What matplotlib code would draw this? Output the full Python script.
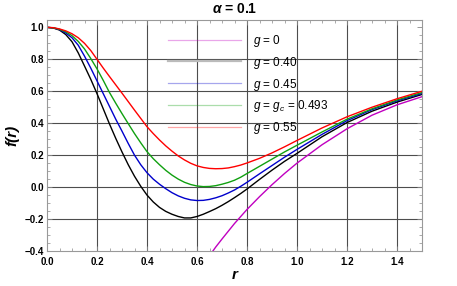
import numpy as np
import matplotlib.pyplot as plt
from matplotlib.lines import Line2D
from matplotlib.ticker import MultipleLocator

plt.rcParams['font.family'] = ['Liberation Sans', 'DejaVu Sans']
plt.rcParams['mathtext.fontset'] = 'custom'
plt.rcParams['mathtext.rm'] = 'Liberation Sans'
plt.rcParams['mathtext.it'] = 'Liberation Sans:italic'
plt.rcParams['mathtext.bf'] = 'Liberation Sans:bold'
plt.rcParams['mathtext.bfit'] = 'Liberation Sans:italic:bold'

# values
r = [0.0, 0.025, 0.05, 0.075, 0.1, 0.125, 0.15, 0.175, 0.2, 0.225, 0.25,
     0.275, 0.3, 0.325, 0.35, 0.375, 0.4, 0.425, 0.45, 0.475, 0.5, 0.525,
     0.55, 0.575, 0.6, 0.625, 0.65, 0.675, 0.7, 0.725, 0.75, 0.775, 0.8,
     0.85, 0.9, 0.95, 1.0, 1.1, 1.2, 1.3, 1.4, 1.5]

f_g040 = [1.0, 0.996, 0.983, 0.955, 0.91, 0.84, 0.758, 0.675, 0.585, 0.49,
          0.395, 0.305, 0.22, 0.14, 0.068, 0.005, -0.05, -0.093, -0.127,
          -0.152, -0.17, -0.184, -0.193, -0.193, -0.184, -0.17, -0.153,
          -0.135, -0.114, -0.091, -0.066, -0.04, -0.012, 0.048, 0.106, 0.161,
          0.211, 0.315, 0.404, 0.475, 0.532, 0.58]
f_g045 = [1.0, 0.997, 0.986, 0.965, 0.935, 0.888, 0.82, 0.745, 0.665, 0.585,
          0.505, 0.425, 0.35, 0.273, 0.2, 0.14, 0.09, 0.05, 0.018, -0.01,
          -0.035, -0.055, -0.07, -0.08, -0.084, -0.083, -0.077, -0.067,
          -0.054, -0.037, -0.018, 0.005, 0.03, 0.083, 0.135, 0.187, 0.236,
          0.33, 0.416, 0.485, 0.54, 0.586]
f_gc = [1.0, 0.997, 0.988, 0.972, 0.948, 0.912, 0.865, 0.805, 0.74, 0.668,
        0.592, 0.525, 0.46, 0.397, 0.335, 0.277, 0.222, 0.178, 0.14, 0.105,
        0.075, 0.05, 0.03, 0.016, 0.007, 0.003, 0.004, 0.009, 0.018, 0.029,
        0.043, 0.062, 0.085, 0.13, 0.175, 0.22, 0.262, 0.345, 0.425, 0.49,
        0.545, 0.592]
f_g055 = [1.0, 0.998, 0.99, 0.978, 0.96, 0.935, 0.9, 0.855, 0.80, 0.745,
          0.692, 0.64, 0.588, 0.535, 0.482, 0.43, 0.378, 0.335, 0.295, 0.258,
          0.225, 0.195, 0.17, 0.149, 0.133, 0.123, 0.117, 0.115, 0.116, 0.12,
          0.128, 0.138, 0.151, 0.18, 0.214, 0.252, 0.292, 0.37, 0.44, 0.50,
          0.553, 0.60]

r_g0 = [0.6, 0.625, 0.65, 0.675, 0.7, 0.75, 0.8, 0.85, 0.9, 0.95, 1.0, 1.1,
        1.2, 1.3, 1.4, 1.5]
f_g0 = [-0.56, -0.49, -0.43, -0.375, -0.325, -0.228, -0.14, -0.06, 0.015,
        0.085, 0.15, 0.265, 0.365, 0.45, 0.515, 0.566]

labels = [r'$g$ = 0', r'$g$ = 0.40', r'$g$ = 0.45',
          r'$g$ = $g_c$ = $\mathit{0.493}$', r'$g$ = 0.55']
colors = ['#c000c0', 'black', '#0000cc', '#10a010', '#ff0000']

fig = plt.figure(figsize=(4.57, 2.86), dpi=100)
ax = fig.add_axes([47 / 457, 1 - 251 / 286, 375 / 457, 231 / 286])

lw = 1.0
ax.plot(r_g0, f_g0, color=colors[0], lw=lw)
ax.plot(r, f_g040, color=colors[1], lw=lw)
ax.plot(r, f_g045, color=colors[2], lw=lw)
ax.plot(r, f_gc, color=colors[3], lw=lw)
ax.plot(r, f_g055, color=colors[4], lw=lw)

ax.set_xlim(0, 1.5)
ax.set_ylim(-0.4, 1.046)

ax.xaxis.set_minor_locator(MultipleLocator(0.05))
ax.yaxis.set_minor_locator(MultipleLocator(0.05))
ax.set_xticks([0, 0.2, 0.4, 0.6, 0.8, 1.0, 1.2, 1.4])
ax.set_yticks([-0.4, -0.2, 0.0, 0.2, 0.4, 0.6, 0.8, 1.0])
ax.set_xticklabels(['0.0', '0.2', '0.4', '0.6', '0.8', '1.0', '1.2', '1.4'])
ax.set_yticklabels(['\u22120.4', '\u22120.2', '0.0', '0.2', '0.4', '0.6', '0.8', '1.0'])

for v in [0.2, 0.4, 0.6, 0.8, 1.0, 1.2, 1.4]:
    ax.axvline(v, color='#4d4d4d', lw=0.8, zorder=0)
for v in [-0.2, 0.0, 0.2, 0.4, 0.6, 0.8]:
    ax.axhline(v, color='#4d4d4d', lw=0.8, zorder=0)

ax.tick_params(which='both', direction='in', top=True, right=True,
               color='#888888', labelsize=7)
ax.tick_params(which='major', length=3.5, width=0.6)
ax.tick_params(which='minor', length=2, width=0.5)
ax.tick_params(axis='x', pad=4)
ax.tick_params(axis='y', pad=2)
for lab in ax.get_xticklabels() + ax.get_yticklabels():
    lab.set_fontweight('bold')
for s in ax.spines.values():
    s.set_color('#999999')
    s.set_linewidth(0.8)

ax.set_xlabel('r', fontsize=11, fontweight='bold', fontstyle='italic', labelpad=1)
ax.set_ylabel('f(r)', fontsize=11, fontweight='bold', fontstyle='italic', labelpad=4)
ax.set_title(r'$\mathbfit{\alpha}$ = 0.1', fontsize=10, fontweight='bold', pad=5)

handles = [Line2D([], [], color=c, lw=0.9, alpha=0.35) for c in colors]
handles[1] = Line2D([], [], color='#bbbbbb', lw=1.6)
ax.legend(handles, labels, loc='upper left', bbox_to_anchor=(0.323, 0.945),
          frameon=False, fontsize=8.5, handlelength=6.2, handletextpad=0.95,
          labelspacing=0.5, borderpad=0, borderaxespad=0)

fig.savefig('out.png', dpi=100)
